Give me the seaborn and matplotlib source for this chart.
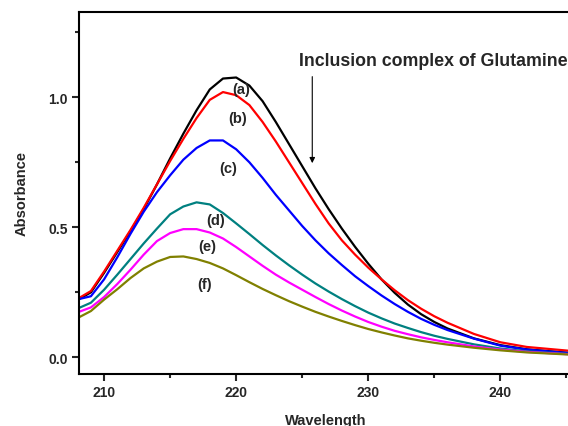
import numpy as np
import pandas as pd
import matplotlib
matplotlib.use("Agg")
import matplotlib.pyplot as plt
import seaborn as sns
from matplotlib.ticker import MultipleLocator

wavelength = [208.1, 209, 210, 211, 212, 213, 214, 215, 216, 217, 218, 219, 220,
              221, 222, 223, 224, 225, 226, 227, 228, 229, 230, 231, 232, 233,
              234, 235, 236, 238, 240, 242, 245.5]

abs_a = [0.224, 0.25, 0.325, 0.405, 0.485, 0.57, 0.665, 0.765, 0.86, 0.95, 1.03, 1.072, 1.076,
         1.045, 0.985, 0.905, 0.82, 0.735, 0.65, 0.57, 0.495, 0.425, 0.36, 0.30, 0.248, 0.203,
         0.166, 0.136, 0.111, 0.073, 0.047, 0.031, 0.016]
abs_b = [0.228, 0.255, 0.33, 0.41, 0.49, 0.575, 0.665, 0.755, 0.84, 0.92, 0.99, 1.02, 1.008,
         0.97, 0.905, 0.83, 0.75, 0.67, 0.59, 0.515, 0.45, 0.395, 0.345, 0.30, 0.258, 0.22,
         0.187, 0.158, 0.133, 0.09, 0.058, 0.04, 0.024]
abs_c = [0.224, 0.235, 0.30, 0.385, 0.475, 0.56, 0.635, 0.70, 0.76, 0.805, 0.834, 0.834, 0.80,
         0.75, 0.69, 0.625, 0.565, 0.505, 0.45, 0.40, 0.355, 0.312, 0.274, 0.238, 0.205, 0.175,
         0.148, 0.125, 0.105, 0.072, 0.045, 0.03, 0.015]
abs_d = [0.19, 0.21, 0.26, 0.318, 0.378, 0.438, 0.495, 0.55, 0.58, 0.596, 0.588, 0.555, 0.515,
         0.474, 0.432, 0.392, 0.354, 0.318, 0.284, 0.253, 0.224, 0.197, 0.172, 0.15, 0.13, 0.113,
         0.097, 0.083, 0.071, 0.05, 0.034, 0.023, 0.012]
abs_e = [0.175, 0.192, 0.232, 0.282, 0.337, 0.395, 0.447, 0.478, 0.493, 0.493, 0.48, 0.457, 0.424,
         0.388, 0.352, 0.318, 0.288, 0.26, 0.232, 0.205, 0.18, 0.157, 0.136, 0.118, 0.102, 0.089,
         0.077, 0.067, 0.058, 0.042, 0.03, 0.021, 0.011]
abs_f = [0.154, 0.178, 0.222, 0.262, 0.305, 0.342, 0.368, 0.386, 0.388, 0.378, 0.363, 0.342, 0.316,
         0.289, 0.263, 0.239, 0.216, 0.195, 0.175, 0.157, 0.14, 0.124, 0.109, 0.096, 0.084, 0.073,
         0.064, 0.056, 0.049, 0.037, 0.027, 0.019, 0.01]

series_names = ["(a)", "(b)", "(c)", "(d)", "(e)", "(f)"]
series_values = [abs_a, abs_b, abs_c, abs_d, abs_e, abs_f]
colors = ["#000000", "#FF0000", "#0000FF", "#008080", "#FF00FF", "#808000"]

label_x = [220.4, 220.1, 219.4, 218.45, 217.8, 217.6]
label_y = [1.032, 0.919, 0.728, 0.529, 0.429, 0.282]

title_text = "Inclusion complex of Glutamine"

rows = []
for name, vals in zip(series_names, series_values):
    for w, v in zip(wavelength, vals):
        rows.append({"Wavelength": w, "Absorbance": v, "sample": name})
df = pd.DataFrame(rows)

sns.set_style("ticks")
plt.rcParams["font.family"] = ["Liberation Sans", "DejaVu Sans"]
plt.rcParams["font.weight"] = "bold"

fig = plt.figure(figsize=(5.68, 4.27), dpi=100)
ax = fig.add_axes([79 / 568, 1 - 375 / 427, 494 / 568, (375 - 12.7) / 427])

sns.lineplot(data=df, x="Wavelength", y="Absorbance", hue="sample",
             palette=dict(zip(series_names, colors)), linewidth=1.6,
             legend=False, ax=ax, sort=False)

ax.set_xlim(208.1, 245.5)
ax.set_ylim(-0.064, 1.329)

ax.xaxis.set_major_locator(MultipleLocator(10))
ax.xaxis.set_minor_locator(MultipleLocator(5))
ax.yaxis.set_major_locator(MultipleLocator(0.5))
ax.yaxis.set_minor_locator(MultipleLocator(0.25))
ax.yaxis.set_major_formatter(matplotlib.ticker.FormatStrFormatter("%.1f"))

ax.tick_params(which="major", direction="out", length=5, width=1.5,
               labelsize=10, pad=3)
ax.tick_params(which="minor", direction="out", length=3, width=1.5)
for lab in ax.get_xticklabels() + ax.get_yticklabels():
    lab.set_fontweight("bold")

for side in ["left", "bottom", "top", "right"]:
    ax.spines[side].set_visible(True)
    ax.spines[side].set_linewidth(1.5)
    ax.spines[side].set_color("black")

ax.set_xlabel("Wavelength", fontsize=10.5, fontweight="bold", labelpad=10)
ax.set_ylabel("Absorbance", fontsize=10.5, fontweight="bold", labelpad=14)

for name, lx, ly in zip(series_names, label_x, label_y):
    ax.text(lx, ly, name, fontsize=10.5, fontweight="bold",
            ha="center", va="center")

ax.text(224.75, 1.14, title_text, fontsize=12.8, fontweight="bold",
        ha="left", va="center")
ax.annotate("", xy=(225.76, 0.736), xytext=(225.76, 1.09),
            arrowprops=dict(arrowstyle="-|>", color="black", lw=0.8,
                            mutation_scale=8))

fig.savefig("out.png", dpi=100)
